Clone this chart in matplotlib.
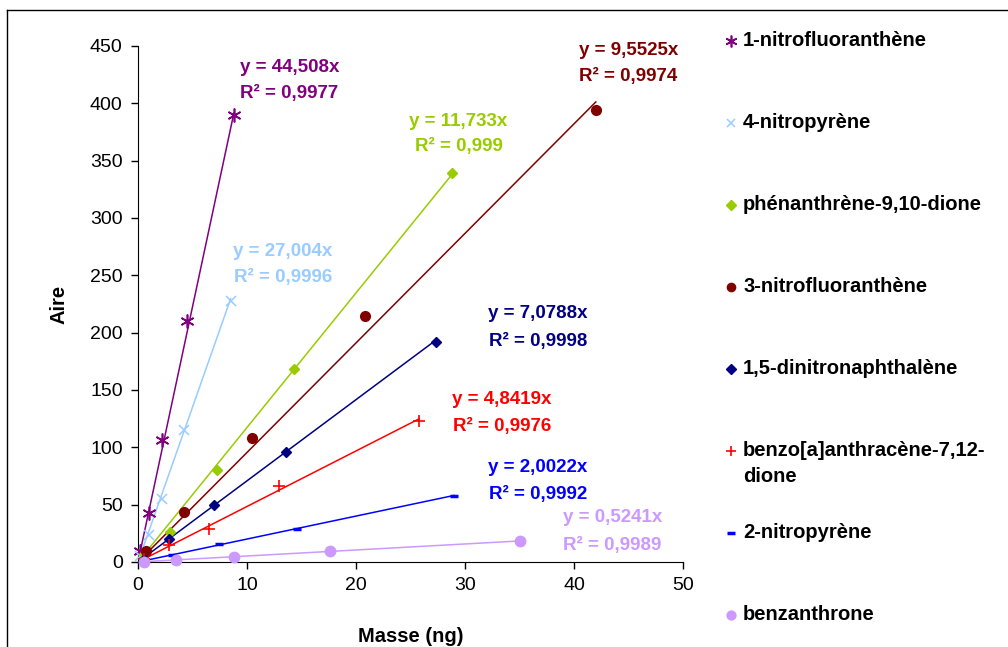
import numpy as np
import matplotlib
matplotlib.use('Agg')
import matplotlib.pyplot as plt
from matplotlib.lines import Line2D

plt.rcParams.update({
    'font.family': ['Liberation Sans', 'DejaVu Sans'],
    'font.size': 14,
})

# ── data (masse ng, aire) ────────────────────────────────────────────
names = ['1-nitrofluoranthène', '4-nitropyrène', 'phénanthrène-9,10-dione',
         '3-nitrofluoranthène', '1,5-dinitronaphthalène',
         'benzo[a]anthracène-7,12-\ndione', '2-nitropyrène', 'benzanthrone']

x_nf1 = [0.22, 1.05, 2.2, 4.5, 8.8]
y_nf1 = [10, 43, 106, 210, 390]
x_np4 = [0.21, 1.04, 2.2, 4.25, 8.5]
y_np4 = [5.5, 23.5, 55, 115, 228]
x_phd = [0.58, 2.95, 7.25, 14.3, 28.8]
y_phd = [7, 26, 80, 168, 339]
x_nf3 = [0.7, 4.25, 10.5, 20.8, 42.0]
y_nf3 = [10, 43.5, 108.5, 214.5, 394]
x_dnn = [0.55, 2.85, 7.0, 13.55, 27.3]
y_dnn = [3, 20, 50, 96, 192]
x_bad = [0.55, 2.8, 6.55, 12.9, 25.8]
y_bad = [3, 15, 29, 66, 123]
x_np2 = [0.6, 3.1, 7.45, 14.55, 29.0]
y_np2 = [1.2, 6.4, 15.5, 28.5, 57.8]
x_bzn = [0.56, 3.5, 8.85, 17.6, 35.0]
y_bzn = [0.2, 1.6, 4.2, 9.3, 18.5]

slopes = [44.508, 27.004, 11.733, 9.5525, 7.0788, 4.8419, 2.0022, 0.5241]
slope_txt = ['44,508', '27,004', '11,733', '9,5525', '7,0788', '4,8419', '2,0022', '0,5241']
r2 = ['0,9977', '0,9996', '0,999', '0,9974', '0,9998', '0,9976', '0,9992', '0,9989']

xs = [x_nf1, x_np4, x_phd, x_nf3, x_dnn, x_bad, x_np2, x_bzn]
ys = [y_nf1, y_np4, y_phd, y_nf3, y_dnn, y_bad, y_np2, y_bzn]

# ── styles ───────────────────────────────────────────────────────────
colors = ['#800080', '#99CCFF', '#99CC00', '#800000', '#000080',
          '#FF0000', '#0000FF', '#CC99FF']
markers = [(6, 2, 0), 'x', 'D', 'o', 'D', '+', '_', 'o']
msizes = [10, 7.5, 5.5, 7, 5.5, 8.5, 6, 7.5]
mews = [1.2, 1.1, 1, 1, 1, 1.2, 2.5, 1]
# equation label positions (data coords: x centre, y of line 1, y of line 2)
eq_pos = [(13.9, 431, 409), (13.3, 271, 248.5), (29.4, 384.5, 362),
          (45.0, 446.5, 423), (36.7, 217, 192.7), (33.4, 142, 118.6),
          (36.7, 82.8, 59.3), (43.5, 38.4, 14.8)]

fig = plt.figure(figsize=(10.08, 6.47), dpi=100)
ax = fig.add_axes([138 / 1008, 1 - 562 / 647, 545 / 1008, 516 / 647])

for x, y, a, c, m, ms, mew in zip(xs, ys, slopes, colors, markers, msizes, mews):
    xl = np.array([0, max(x)])
    ax.plot(xl, a * xl, color=c, lw=1.1, zorder=2)
    ax.plot(x, y, ls='none', marker=m, ms=ms, color=c, mec=c, mew=mew,
            zorder=3, clip_on=False)

for (ex, ey1, ey2), s, r, c in zip(eq_pos, slope_txt, r2, colors):
    ax.text(ex, ey1, f'y = {s}x', color=c, fontsize=13.5, fontweight='bold',
            ha='center', va='center', clip_on=False)
    ax.text(ex, ey2, f'R² = {r}', color=c, fontsize=13.5, fontweight='bold',
            ha='center', va='center', clip_on=False)

ax.set_xlim(0, 50)
ax.set_ylim(0, 450)
ax.set_xticks(np.arange(0, 51, 10))
ax.set_yticks(np.arange(0, 451, 50))
ax.spines['top'].set_visible(False)
ax.spines['right'].set_visible(False)
ax.tick_params(direction='out', length=5, width=1, labelsize=14, pad=6)
ax.set_xlabel('Masse (ng)', fontweight='bold', fontsize=14.5)
ax.set_ylabel('Aire', fontweight='bold', fontsize=14.5)
ax.xaxis.set_label_coords(0.5, -0.126)
ax.yaxis.set_label_coords(-0.128, 0.5)

# legend drawn by hand: Excel spaces entries evenly regardless of line count
for i, (n, c, m, ms, mew) in enumerate(zip(names, colors, markers, msizes, mews)):
    yf = 1 - (41 + 82 * i) / 647
    fig.add_artist(Line2D([731 / 1008], [yf], transform=fig.transFigure,
                          marker=m, color=c, mec=c, ms=ms * 0.85, mew=mew, ls='none'))
    fig.text(743 / 1008, yf + 10 / 647, n, fontsize=14.5, fontweight='bold',
             va='top', ha='left', linespacing=1.45)

# chart-area frame (only top and left edges visible in the crop)
fig.add_artist(Line2D([7 / 1008, 1], [1 - 10 / 647, 1 - 10 / 647],
                      transform=fig.transFigure, color='black', lw=1))
fig.add_artist(Line2D([7 / 1008, 7 / 1008], [0, 1 - 10 / 647],
                      transform=fig.transFigure, color='black', lw=1))

fig.savefig('out.png', dpi=100)
